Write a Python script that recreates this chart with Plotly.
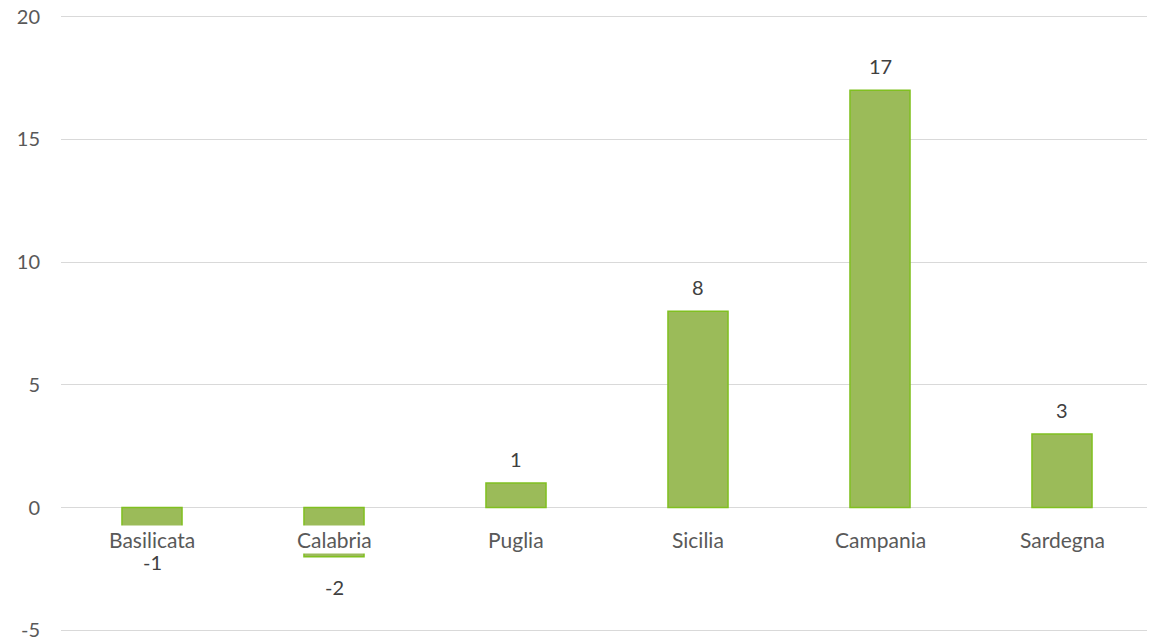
import plotly.graph_objects as go

# data
regions = ["Basilicata", "Calabria", "Puglia", "Sicilia", "Campania", "Sardegna"]
values = [-1, -2, 1, 8, 17, 3]
y_ticks = [-5, 0, 5, 10, 15, 20]

FONT = "Lato, Calibri, 'Open Sans', sans-serif"
TEXT_COLOR = "#595959"
LABEL_COLOR = "#404040"

fig = go.Figure()

fig.add_trace(go.Bar(
    x=list(range(len(regions))),
    y=values,
    width=0.33,
    marker=dict(color="#9bbb59", line=dict(color="#80c020", width=1.5)),
    hoverinfo="skip",
    showlegend=False,
))

# category labels sit on the zero line with a white box, like Excel does
for i, name in enumerate(regions):
    fig.add_annotation(
        x=i, y=0, xref="x", yref="y",
        text=name, showarrow=False,
        yanchor="top", yshift=-17,
        bgcolor="white", borderpad=1,
        font=dict(family=FONT, size=21, color=TEXT_COLOR),
    )

# value labels above / below bar ends
for i, v in enumerate(values):
    fig.add_annotation(
        x=i, y=v, xref="x", yref="y",
        text=str(v), showarrow=False,
        yanchor="middle", yshift=24 if v > 0 else -30,
        font=dict(family=FONT, size=20, color=LABEL_COLOR),
    )

# page body adds 8px around the figure, so size/margins compensate;
# range padded a little so the edge gridlines (-5, 20) still get drawn
fig.update_layout(
    width=1147, height=631,
    margin=dict(l=53, r=2, t=5, b=5),
    plot_bgcolor="white",
    paper_bgcolor="white",
    font=dict(family=FONT, size=20, color=TEXT_COLOR),
    xaxis=dict(
        range=[-0.5, len(regions) - 0.5],
        showticklabels=False,
        showgrid=False,
        zeroline=False,
        showline=False,
        automargin=False,
        fixedrange=True,
    ),
    yaxis=dict(
        range=[-5.15, 20.15],
        tickvals=y_ticks,
        ticktext=[str(t) for t in y_ticks],
        showgrid=True,
        gridcolor="#d9d9d9",
        gridwidth=1,
        zeroline=True,
        zerolinecolor="#d9d9d9",
        zerolinewidth=1,
        showline=False,
        ticklabelstandoff=20,
        ticklabeloverflow="allow",
        automargin=False,
        tickfont=dict(family=FONT, size=20, color=TEXT_COLOR),
        fixedrange=True,
    ),
)

fig.write_html("out.html")
